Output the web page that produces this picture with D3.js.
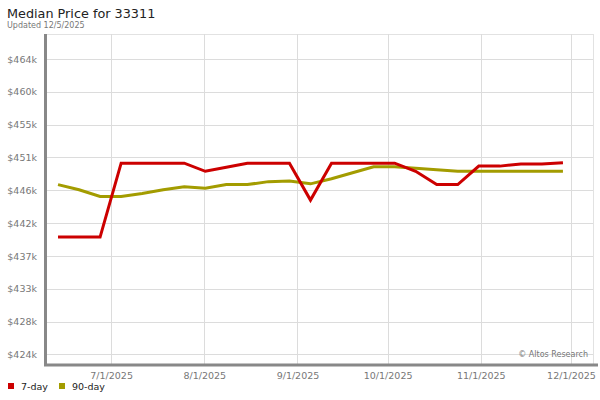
<!DOCTYPE html>
<html><head><meta charset="utf-8">
<script src="https://cdn.jsdelivr.net/npm/d3@7"></script>
<style>body{margin:0;background:#fff;}svg{display:block;font-family:"DejaVu Sans",Verdana,sans-serif;}</style>
</head><body><svg id="c" width="600" height="400"></svg>
<script>
const dates = ["2025-06-13","2025-06-20","2025-06-27","2025-07-04","2025-07-11","2025-07-18","2025-07-25","2025-08-01","2025-08-08","2025-08-15","2025-08-22","2025-08-29","2025-09-05","2025-09-12","2025-09-19","2025-09-26","2025-10-03","2025-10-10","2025-10-17","2025-10-24","2025-10-31","2025-11-07","2025-11-14","2025-11-21","2025-11-28"];
const sevenDay = [439900,439900,439900,449900,449900,449900,449900,448800,449350,449900,449900,449900,444900,449900,449900,449900,449900,448800,447000,447000,449500,449500,449800,449800,449950];
const ninetyDay = [447000,446300,445400,445400,445800,446300,446700,446500,447000,447000,447400,447500,447100,447800,448600,449400,449400,449200,449000,448800,448800,448800,448800,448800,448800];
const yTickValues = [424000,428444,432889,437333,441778,446222,450667,455111,459556,464000];
const yTickLabels = ["$424k","$428k","$433k","$437k","$442k","$446k","$451k","$455k","$460k","$464k"];
const xTickDates = ["2025-07-01","2025-08-01","2025-09-01","2025-10-01","2025-11-01","2025-12-01"];
const xTickLabels = ["7/1/2025","8/1/2025","9/1/2025","10/1/2025","11/1/2025","12/1/2025"];
const seriesNames = ["7-day","90-day"];
const seriesColors = ["#cc0000","#a39c00"];

const parse = d3.utcParse("%Y-%m-%d");
const svg = d3.select("#c");
const L = 46, R = 593, T = 34, B = 364;

const x = d3.scaleUtc().domain([parse("2025-06-09"), parse("2025-12-08")]).range([L, R]);
const y = d3.scaleLinear().domain([422714, 467384]).range([B, T]);

// title
svg.append("text").attr("x",7).attr("y",18).attr("font-size",12.8).attr("fill","#222").text("Median Price for 33311");
svg.append("text").attr("x",7).attr("y",28).attr("font-size",8).attr("fill","#777").text("Updated 12/5/2025");

// grid
const g = svg.append("g");
g.append("line").attr("x1",L).attr("x2",R).attr("y1",T+0.5).attr("y2",T+0.5).attr("stroke","#e2e2e2");
g.append("line").attr("x1",R+0.5).attr("x2",R+0.5).attr("y1",T).attr("y2",B).attr("stroke","#e2e2e2");
g.selectAll(".hg").data(yTickValues).enter().append("line")
  .attr("x1",L).attr("x2",R).attr("y1",d=>Math.round(y(d))+0.5).attr("y2",d=>Math.round(y(d))+0.5)
  .attr("stroke","#dcdcdc");
g.selectAll(".vg").data(xTickDates).enter().append("line")
  .attr("x1",d=>Math.round(x(parse(d)))-0.5).attr("x2",d=>Math.round(x(parse(d)))-0.5)
  .attr("y1",T).attr("y2",B).attr("stroke","#dcdcdc");

// axes via d3
const yAxis = d3.axisLeft(y).tickValues(yTickValues).tickFormat((d,i)=>yTickLabels[i]).tickSize(0).tickPadding(7);
const ya = svg.append("g").attr("transform",`translate(${L-2},0)`).call(yAxis);
ya.select(".domain").remove();
ya.selectAll("text").attr("font-size",9.5).attr("fill","#777").attr("font-family","DejaVu Sans, sans-serif");

const xAxis = d3.axisBottom(x).tickValues(xTickDates.map(parse)).tickFormat((d,i)=>xTickLabels[i]).tickSize(0).tickPadding(8);
const xa = svg.append("g").attr("transform",`translate(-1,${B})`).call(xAxis);
xa.select(".domain").remove();
xa.selectAll("text").attr("font-size",9.5).attr("fill","#777").attr("font-family","DejaVu Sans, sans-serif");

// axis bars
svg.append("rect").attr("x",L-2).attr("y",T).attr("width",3).attr("height",B-T+2).attr("fill","#888");
svg.append("rect").attr("x",L-2).attr("y",B-0.5).attr("width",598-(L-2)).attr("height",3).attr("fill","#888");

// copyright
svg.append("text").attr("x",588).attr("y",357).attr("text-anchor","end").attr("font-size",8).attr("fill","#777").text("\u00a9 Altos Research");

// lines
const line = d3.line().x((d,i)=>x(parse(dates[i]))).y(d=>y(d));
[ninetyDay, sevenDay].forEach((s,k)=>{
  const idx = k===0?1:0;
  svg.append("path").datum(s).attr("d",line).attr("fill","none")
    .attr("stroke",seriesColors[idx]).attr("stroke-width",3).attr("stroke-linejoin","miter");
});

// legend
const lg = svg.append("g");
const lx = [8, 59];
seriesNames.forEach((n,i)=>{
  lg.append("rect").attr("x",lx[i]).attr("y",383).attr("width",6).attr("height",6).attr("fill",seriesColors[i]);
  lg.append("text").attr("x",lx[i]+13).attr("y",390).attr("font-size",9.5).attr("fill","#222").text(n);
});
</script></body></html>
